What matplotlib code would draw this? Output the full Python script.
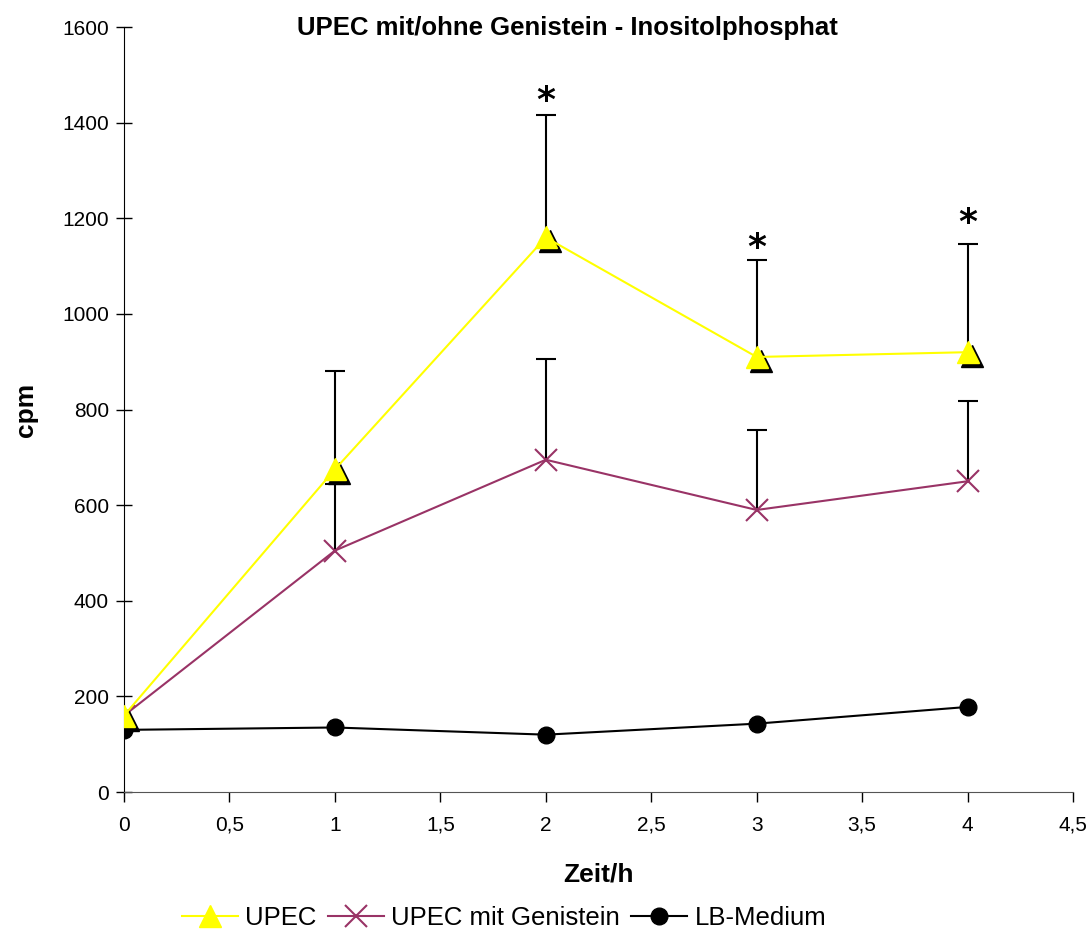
import matplotlib
matplotlib.use("Agg")
import matplotlib.pyplot as plt
import matplotlib.transforms as mtransforms
from matplotlib.lines import Line2D
import numpy as np

plt.rcParams['font.family'] = ['Liberation Sans', 'DejaVu Sans']

# Messzeitpunkte (h) und Inositolphosphat-Werte (cpm)
zeit = [0, 1, 2, 3, 4]
upec = [160, 675, 1160, 910, 920]
upec_err = [0, 205, 257, 202, 227]
upec_gen = [160, 505, 695, 590, 650]
upec_gen_err = [0, 140, 210, 167, 167]
lb_medium = [130, 135, 120, 143, 178]

# Signifikanz-Sterne
stern_x = [2, 3, 4]
stern_y = [1445, 1137, 1190]

x_ticks = np.arange(0, 4.51, 0.5)
x_labels = ['0', '0,5', '1', '1,5', '2', '2,5', '3', '3,5', '4', '4,5']
y_ticks = np.arange(0, 1601, 200)

fig = plt.figure(figsize=(10.92, 9.34), dpi=100)
ax = fig.add_axes([0.1136, 0.152, 0.8690, 0.819])


def error_up(x, y, err):
    # nur obere Fehlerbalken mit Querstrich
    x = np.asarray(x, dtype=float)
    top = np.asarray(y, dtype=float) + np.asarray(err, dtype=float)
    keep = np.asarray(err) > 0
    ax.vlines(x[keep], np.asarray(y)[keep], top[keep], colors='black', lw=1.5, zorder=2)
    ax.plot(x[keep], top[keep], ls='none', marker='_', ms=15, mew=1.5,
            color='black', zorder=2)


error_up(zeit, upec_gen, upec_gen_err)
error_up(zeit, upec, upec_err)

ax.plot(zeit, lb_medium, color='black', lw=1.5, marker='o', ms=12,
        mfc='black', mec='black', zorder=3)
ax.plot(zeit, upec_gen, color='#993366', lw=1.5, marker='x', ms=16,
        mew=1.5, zorder=4)

# Schatten der Dreiecke
shadow = mtransforms.offset_copy(ax.transData, fig=fig, x=4, y=-4, units='dots')
ax.plot(zeit, upec, ls='none', marker='^', ms=16, mfc='black', mec='black',
        transform=shadow, zorder=5)
ax.plot(zeit, upec, color='#ffff00', lw=1.5, marker='^', ms=16,
        mfc='#ffff00', mec='#ffff00', zorder=6)

for sx, sy in zip(stern_x, stern_y):
    ax.text(sx, sy, '*', ha='center', va='center', fontsize=26,
            fontweight='bold', family=['DejaVu Sans'])

ax.set_xlim(0, 4.5)
ax.set_ylim(0, 1600)
ax.set_xticks(x_ticks)
ax.set_xticklabels(x_labels)
ax.set_yticks(y_ticks)
ax.tick_params(axis='both', labelsize=15, width=1, color='black')
ax.tick_params(axis='y', direction='inout', length=12, pad=5)
ax.tick_params(axis='x', direction='out', length=7, pad=10)
ax.spines['top'].set_visible(False)
ax.spines['right'].set_visible(False)
ax.spines['bottom'].set_color('#555555')

fig.text(0.52, 0.970, 'UPEC mit/ohne Genistein - Inositolphosphat', fontsize=18.5,
         fontweight='bold', ha='center', va='center')
ax.set_xlabel('Zeit/h', fontsize=19, fontweight='bold', labelpad=20)
ax.set_ylabel('cpm', fontsize=19, fontweight='bold', labelpad=17)

handles = [
    Line2D([], [], color='#ffff00', lw=1.5, marker='^', ms=16, mfc='#ffff00', mec='#ffff00'),
    Line2D([], [], color='#993366', lw=1.5, marker='x', ms=16, mew=1.5),
    Line2D([], [], color='black', lw=1.5, marker='o', ms=12),
]
fig.legend(handles, ['UPEC', 'UPEC mit Genistein', 'LB-Medium'], loc='center',
           bbox_to_anchor=(0.4615, 0.017), ncol=3, frameon=False, fontsize=18.5,
           handlelength=2.2, handletextpad=0.27, columnspacing=0.43)

fig.savefig('out.png', dpi=100)
